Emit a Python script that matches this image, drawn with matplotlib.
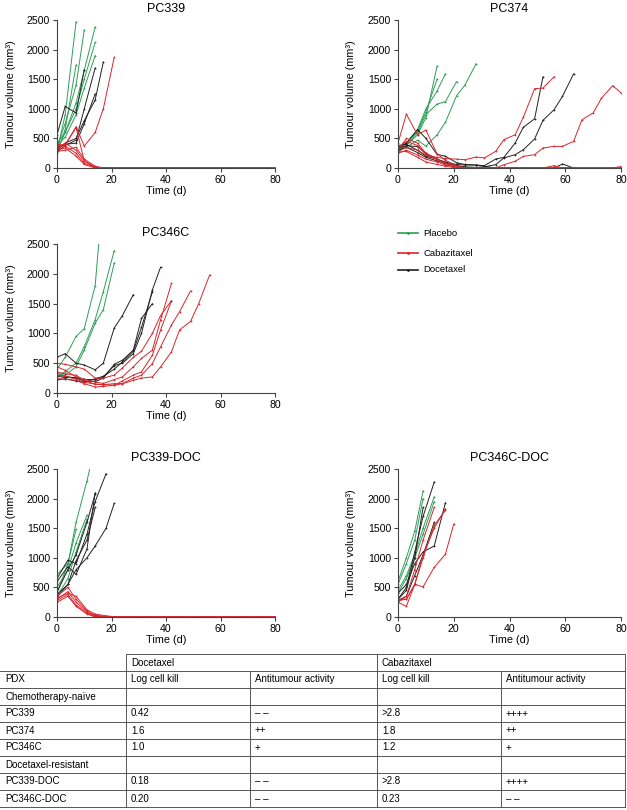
import matplotlib
matplotlib.use("Agg")
import matplotlib.pyplot as plt
from matplotlib.lines import Line2D

plt.rcParams["font.family"] = ["Liberation Sans", "DejaVu Sans"]

W, H = 627, 810
GREEN = "#2f9e57"
RED = "#d8262d"
BLACK = "#222222"

# measurement days (twice weekly)
DAYS_A = [0, 3, 7, 10, 14, 17, 21, 24, 28, 31, 35, 38, 42, 45, 49, 52, 56, 59, 63, 66, 70, 73, 77, 80]
DAYS_B = [0, 4, 7, 11, 14, 18, 21, 25, 28, 32, 35, 39, 42, 46, 49, 53, 56, 60, 63, 67, 70, 74, 77, 80]
DAYS_C = [0, 3, 6, 9, 13, 17, 20]

# PC339
PC339_PLACEBO = [
    [280, 900, 2470],
    [350, 750, 1400, 2330],
    [300, 600, 1100, 1650, 2380],
    [420, 600, 1000, 1500, 2120],
    [250, 650, 1740],
    [380, 520, 900, 1350, 1900],
]
PC339_DOCE = [
    [560, 1040, 930, 1660],
    [300, 420, 500, 800, 1150, 1790],
    [270, 380, 470, 1000, 1690],
    [350, 400, 420, 750, 1250],
]
PC339_CABA = [
    [350, 380, 700, 370, 600, 1000, 1870],
    [380, 400, 680, 120, 0, 0, 0, 0, 0, 0, 0, 0, 0, 0, 0, 0, 0, 0, 0, 0, 0, 0, 0, 0],
    [330, 420, 300, 120, 20, 0, 0, 0, 0, 0, 0, 0, 0, 0, 0, 0, 0, 0, 0, 0, 0, 0, 0, 0],
    [400, 370, 250, 80, 10, 0, 0, 0, 0, 0, 0, 0, 0, 0, 0, 0, 0, 0, 0, 0, 0, 0, 0, 0],
    [300, 340, 200, 60, 0, 0, 0, 0, 0, 0, 0, 0, 0, 0, 0, 0, 0, 0, 0, 0, 0, 0, 0, 0],
    [280, 300, 350, 150, 30, 0, 0, 0, 0, 0, 0, 0, 0, 0, 0, 0, 0, 0, 0, 0, 0, 0, 0, 0],
]

# PC374
PC374_PLACEBO = [
    [300, 380, 560, 850, 1720],
    [330, 420, 620, 950, 1500],
    [300, 380, 600, 900, 1080, 1120, 1460],
    [320, 420, 650, 1000, 1300, 1590],
    [280, 350, 470, 370, 560, 770, 1220, 1400, 1760],
]
PC374_DOCE = [
    [350, 420, 650, 500, 230, 200, 90, 60, 50, 30, 0, 0, 0, 0, 0, 0, 0, 68, 0],
    [330, 380, 360, 250, 150, 100, 60, 50, 50, 40, 150, 180, 420, 690, 830, 1540],
    [300, 350, 260, 180, 120, 80, 40, 20, 10, 20, 56, 170, 225, 310, 490, 805, 985, 1210, 1590],
    [380, 400, 300, 200, 150, 80, 30, 10, 0, 0, 0],
]
PC374_CABA = [
    [420, 910, 560, 640, 240, 130, 40, 0, 0, 0, 0, 0, 0, 0, 0, 0, 0, 0, 0, 0, 0, 0, 0, 0],
    [280, 350, 300, 220, 180, 160, 150, 140, 185, 170, 280, 480, 560, 860, 1340, 1350, 1540],
    [300, 500, 420, 250, 150, 80, 30, 10, 0, 0, 0, 56, 113, 197, 225, 338, 366, 366, 450, 816, 930, 1180, 1390, 1270],
    [250, 300, 220, 150, 100, 50, 20, 0, 0, 0, 0, 0, 0, 0, 0, 0, 40, 0, 0, 0, 0, 0, 0, 25],
    [350, 450, 380, 230, 140, 60, 10, 0, 0, 0, 0, 0, 0, 0, 0, 0, 0, 0, 0, 0, 0, 0, 0, 0],
    [270, 280, 180, 100, 60, 30, 0, 0, 0, 0, 0, 0, 0, 0, 0, 0, 0, 0, 0, 0, 0, 0, 0, 0],
]

# PC346C
PC346C_PLACEBO = [
    [400, 600, 950, 1080, 1800, 3400],
    [280, 360, 500, 780, 1230, 1700, 2390],
    [330, 300, 440, 720, 1170, 1400, 2180],
]
PC346C_DOCE = [
    [600, 660, 500, 470, 390, 500, 1090, 1300, 1650],
    [280, 260, 260, 230, 220, 270, 460, 500, 660, 1000, 1730, 2110],
    [220, 240, 200, 180, 240, 280, 400, 520, 700, 1100, 1700],
    [300, 280, 250, 200, 190, 250, 480, 550, 720, 1250, 1500],
]
PC346C_CABA = [
    [440, 380, 270, 230, 185, 160, 225, 270, 440, 580, 720, 1225, 1840],
    [354, 320, 298, 213, 146, 140, 130, 202, 300, 354, 635, 1056, 1545],
    [300, 280, 230, 180, 150, 140, 157, 157, 250, 298, 494, 775, 1140, 1365, 1713],
    [242, 230, 213, 157, 100, 110, 130, 157, 213, 250, 270, 438, 690, 1060, 1200, 1500, 1980],
    [500, 480, 440, 400, 250, 250, 300, 420, 600, 700, 1000, 1300, 1550],
]

# PC339-DOC
PC339DOC_PLACEBO = [
    [400, 900, 1600, 2300, 2900],
    [720, 900, 1480],
    [500, 800, 1250, 1720],
    [350, 650, 1100, 1650],
]
PC339DOC_DOCE = [
    [650, 960, 900, 1400, 1950, 2420],
    [380, 550, 800, 1000, 1200, 1500, 1920],
    [600, 850, 720, 1150, 2100],
    [420, 800, 1050, 1600, 2080],
    [330, 550, 950, 1300, 1850],
]
PC339DOC_CABA = [
    [350, 500, 300, 100, 30, 10, 0, 0, 0, 0, 0, 0, 0, 0, 0, 0, 0, 0, 0, 0, 0, 0, 0, 0],
    [300, 430, 250, 80, 20, 0, 0, 0, 0, 0, 0, 0, 0, 0, 0, 0, 0, 0, 0, 0, 0, 0, 0, 0],
    [280, 380, 200, 60, 10, 0, 0, 0, 0, 0, 0, 0, 0, 0, 0, 0, 0, 0, 0, 0, 0, 0, 0, 0],
    [320, 400, 350, 120, 50, 20, 5, 0, 0, 0, 0, 0, 0, 0, 0, 0, 0, 0, 0, 0, 0, 0, 0, 0],
    [250, 350, 180, 50, 0, 0, 0, 0, 0, 0, 0, 0, 0, 0, 0, 0, 0, 0, 0, 0, 0, 0, 0, 0],
]

# PC346C-DOC
PC346CDOC_PLACEBO = [
    [600, 1000, 1450, 2130],
    [550, 900, 1300, 2000],
    [450, 700, 1050, 1500, 2030],
    [400, 650, 1000, 1400, 1950],
]
PC346CDOC_DOCE = [
    [300, 500, 1100, 1700, 2280],
    [400, 550, 900, 1100, 1200, 1930],
    [300, 450, 1000, 1850],
    [280, 350, 700, 1050, 1600],
]
PC346CDOC_CABA = [
    [250, 180, 550, 510, 840, 1060, 1570],
    [280, 300, 550, 1050, 1500, 1830],
    [250, 350, 800, 1300, 1850],
    [300, 300, 550, 1000, 1550, 1800],
]

LEGEND_LABELS = ["Placebo", "Cabazitaxel", "Docetaxel"]

TABLE_ROWS = [
    ["PDX", "Log cell kill", "Antitumour activity", "Log cell kill", "Antitumour activity"],
    ["Chemotherapy-naïve", "", "", "", ""],
    ["PC339", "0.42", "– –", ">2.8", "++++"],
    ["PC374", "1.6", "++", "1.8", "++"],
    ["PC346C", "1.0", "+", "1.2", "+"],
    ["Docetaxel-resistant", "", "", "", ""],
    ["PC339-DOC", "0.18", "– –", ">2.8", "++++"],
    ["PC346C-DOC", "0.20", "– –", "0.23", "– –"],
]
TABLE_GROUPS = ["Docetaxel", "Cabazitaxel"]


def px_rect(left, right, top, bottom):
    return [left / W, 1 - bottom / H, (right - left) / W, (bottom - top) / H]


def draw_panel(fig, rect, title, days, placebo, doce, caba):
    ax = fig.add_axes(rect)
    for curves, color in [(placebo, GREEN), (doce, BLACK), (caba, RED)]:
        for vols in curves:
            ax.plot(days[:len(vols)], vols, color=color, lw=0.7,
                    marker="o", ms=1.3, mew=0)
    ax.set_xlim(0, 80)
    ax.set_ylim(0, 2500)
    ax.set_xticks([0, 20, 40, 60, 80])
    ax.set_yticks([0, 500, 1000, 1500, 2000, 2500])
    for s in ["top", "right"]:
        ax.spines[s].set_visible(False)
    for s in ["left", "bottom"]:
        ax.spines[s].set_linewidth(0.8)
        ax.spines[s].set_color("#444444")
    ax.tick_params(labelsize=7.6, length=3, width=0.8, color="#444444", pad=2)
    ax.set_title(title, fontsize=9, pad=6)
    ax.set_xlabel("Time (d)", fontsize=7.8, labelpad=0.5)
    ax.set_ylabel("Tumour volume (mm³)", fontsize=7.8)
    # right edge of the rotated label, in axes fraction
    ax.yaxis.set_label_coords(-0.19, 0.5)
    return ax


fig = plt.figure(figsize=(W / 100, H / 100), dpi=100)

draw_panel(fig, px_rect(57, 275, 20, 168), "PC339", DAYS_A,
           PC339_PLACEBO, PC339_DOCE, PC339_CABA)
draw_panel(fig, px_rect(398, 621, 20, 168), "PC374", DAYS_A,
           PC374_PLACEBO, PC374_DOCE, PC374_CABA)
draw_panel(fig, px_rect(57, 275, 244, 393), "PC346C", DAYS_A,
           PC346C_PLACEBO, PC346C_DOCE, PC346C_CABA)
draw_panel(fig, px_rect(57, 275, 469, 617), "PC339-DOC", DAYS_B,
           PC339DOC_PLACEBO, PC339DOC_DOCE, PC339DOC_CABA)
draw_panel(fig, px_rect(398, 621, 469, 617), "PC346C-DOC", DAYS_C,
           PC346CDOC_PLACEBO, PC346CDOC_DOCE, PC346CDOC_CABA)

# overlay axes in pixel coords for legend + table
ov = fig.add_axes([0, 0, 1, 1])
ov.set_xlim(0, W)
ov.set_ylim(H, 0)
ov.axis("off")

for label, color, y in zip(LEGEND_LABELS, [GREEN, RED, BLACK], [233, 253, 270]):
    ov.add_line(Line2D([398, 418], [y, y], color=color, lw=1.2))
    ov.plot([408], [y], "o", color=color, ms=2, mew=0)
    ov.text(423, y, label, fontsize=6.8, va="center", ha="left")

# table
col_x = [0, 126, 250, 377, 501, 625]
top = 654
row_h = 17
n_rows = len(TABLE_ROWS) + 1
bottom = top + n_rows * row_h
lc = "#555555"
lw = 0.7
ov.plot([126, 625], [top, top], color=lc, lw=lw)
for i in range(1, n_rows + 1):
    y = top + i * row_h
    ov.plot([0, 625], [y, y], color=lc, lw=lw)
for x in [126, 377, 625]:
    ov.plot([x, x], [top, bottom], color=lc, lw=lw)
for x in [250, 501]:
    ov.plot([x, x], [top + row_h, bottom], color=lc, lw=lw)

for g, x in zip(TABLE_GROUPS, [126, 377]):
    ov.text(x + 5, top + row_h / 2, g, fontsize=7, va="center", ha="left")
for r, row in enumerate(TABLE_ROWS):
    y = top + (r + 1.5) * row_h
    for c, val in enumerate(row):
        if val:
            ov.text(col_x[c] + 5, y, val, fontsize=7, va="center", ha="left")

fig.savefig("out.png", dpi=100)
